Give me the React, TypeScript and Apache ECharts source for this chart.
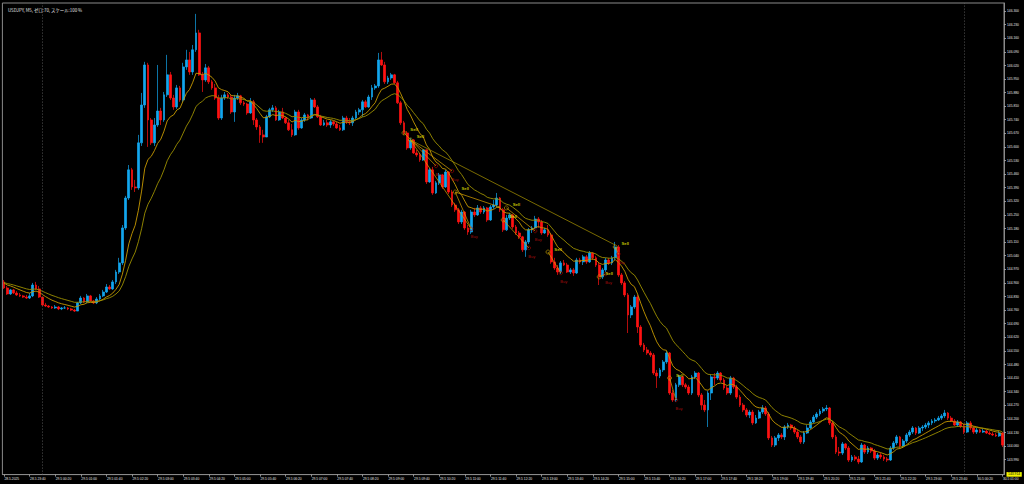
import React, { useEffect, useRef } from "react";
import * as echarts from "echarts";

// USDJPY M5 bars, first bar 28.5.2025 23:00. Each bar opens at the previous close.
const firstOpen = 144.905;
const closes = [
  144.874,144.843,144.864,144.848,144.838,144.833,144.827,144.822,144.833,144.889,
  144.869,144.827,144.786,144.781,144.776,144.771,144.776,144.766,144.771,144.771,
  144.766,144.760,144.755,144.797,144.822,144.802,144.833,144.807,144.797,144.817,
  144.833,144.853,144.879,144.869,144.905,144.956,145.003,145.183,145.337,145.482,
  145.394,145.389,145.621,145.816,146.022,145.739,145.621,145.713,145.785,145.739,
  145.868,145.971,145.852,145.806,145.904,145.842,146.012,146.048,145.986,146.100,
  146.187,145.971,145.945,146.007,145.935,145.904,145.852,145.749,145.852,145.868,
  145.857,145.780,145.852,145.863,145.827,145.821,145.775,145.832,145.739,145.703,
  145.662,145.651,145.755,145.791,145.801,145.739,145.780,145.749,145.724,145.688,
  145.662,145.780,145.698,145.739,145.765,145.749,145.842,145.806,145.755,145.713,
  145.724,145.713,145.729,145.718,145.698,145.688,145.749,145.729,145.724,145.749,
  145.780,145.791,145.832,145.806,145.857,145.904,145.914,146.048,146.022,145.935,
  145.955,145.971,145.930,145.827,145.724,145.672,145.595,145.636,145.569,145.559,
  145.533,145.585,145.420,145.482,145.363,145.415,145.456,145.394,145.471,145.368,
  145.301,145.276,145.214,145.265,145.183,145.162,145.265,145.250,145.286,145.265,
  145.286,145.224,145.291,145.301,145.337,145.276,145.173,145.234,145.250,145.188,
  145.157,145.137,145.070,145.111,145.173,145.183,145.229,145.214,145.157,145.173,
  145.147,145.008,144.977,144.956,145.003,144.992,144.956,144.967,144.951,145.018,
  145.008,145.034,145.008,145.054,145.029,144.992,144.931,144.967,145.018,145.003,
  145.029,145.085,144.941,144.900,144.838,144.735,144.776,144.827,144.673,144.580,
  144.555,144.539,144.529,144.436,144.421,144.452,144.493,144.539,144.333,144.297,
  144.375,144.416,144.375,144.364,144.333,144.416,144.436,144.323,144.271,144.246,
  144.333,144.416,144.410,144.436,144.400,144.359,144.333,144.410,144.364,144.312,
  144.271,144.246,144.220,144.235,144.179,144.204,144.235,144.256,144.225,144.102,
  144.065,144.102,144.117,144.107,144.158,144.168,144.153,144.132,144.107,144.081,
  144.127,144.153,144.184,144.209,144.225,144.240,144.251,144.256,144.179,144.107,
  144.029,144.024,144.071,144.050,143.988,144.004,143.993,143.978,144.065,144.029,
  144.050,144.034,143.998,144.014,144.004,143.993,143.988,144.050,144.076,144.107,
  144.060,144.086,144.117,144.132,144.153,144.127,144.153,144.158,144.168,144.179,
  144.189,144.194,144.204,144.215,144.230,144.204,144.189,144.168,144.184,144.163,
  144.132,144.179,144.153,144.132,144.143,144.132,144.137,144.127,144.122,144.117,
  144.112,144.127,144.065,
];
const highs = [
  144.915,144.884,144.869,144.869,144.858,144.848,144.838,144.838,144.848,144.900,
  144.905,144.884,144.827,144.797,144.786,144.781,144.786,144.781,144.776,144.781,
  144.776,144.771,144.766,144.802,144.833,144.827,144.843,144.838,144.812,144.827,
  144.843,144.864,144.894,144.889,144.915,144.967,145.029,145.198,145.348,145.507,
  145.492,145.430,145.662,145.878,146.038,146.033,145.749,145.749,146.022,145.801,
  145.883,146.074,145.986,145.868,145.919,145.914,146.033,146.100,146.089,146.125,
  146.285,146.203,145.986,146.027,146.017,145.945,145.924,145.868,145.868,145.883,
  145.878,145.868,145.868,145.878,145.868,145.837,145.827,145.852,145.842,145.749,
  145.713,145.688,145.765,145.801,145.816,145.811,145.791,145.801,145.755,145.739,
  145.718,145.791,145.791,145.749,145.775,145.770,145.852,145.852,145.816,145.765,
  145.739,145.739,145.739,145.734,145.729,145.713,145.760,145.760,145.749,145.760,
  145.791,145.801,145.842,145.842,145.868,145.919,145.924,146.084,146.089,146.038,
  145.966,145.981,145.976,145.940,145.837,145.734,145.682,145.646,145.641,145.585,
  145.569,145.585,145.585,145.492,145.497,145.425,145.466,145.461,145.482,145.476,
  145.379,145.312,145.286,145.276,145.270,145.198,145.276,145.286,145.301,145.296,
  145.296,145.291,145.301,145.327,145.363,145.342,145.286,145.250,145.260,145.255,
  145.198,145.167,145.142,145.121,145.183,145.193,145.245,145.239,145.224,145.183,
  145.198,145.157,145.029,144.992,145.013,145.018,145.003,144.977,144.977,145.029,
  145.029,145.044,145.044,145.064,145.059,145.039,145.003,144.977,145.029,145.029,
  145.039,145.111,145.095,144.951,144.910,144.848,144.786,144.838,144.838,144.683,
  144.591,144.570,144.549,144.539,144.452,144.462,144.503,144.549,144.544,144.349,
  144.385,144.426,144.421,144.385,144.375,144.426,144.446,144.441,144.333,144.297,
  144.343,144.426,144.436,144.446,144.441,144.410,144.369,144.421,144.416,144.375,
  144.323,144.282,144.256,144.246,144.246,144.220,144.246,144.271,144.266,144.235,
  144.112,144.112,144.127,144.127,144.168,144.179,144.174,144.163,144.143,144.117,
  144.137,144.168,144.194,144.220,144.235,144.251,144.261,144.271,144.261,144.189,
  144.117,144.055,144.081,144.076,144.060,144.014,144.014,144.009,144.076,144.071,
  144.060,144.055,144.045,144.024,144.024,144.014,144.004,144.060,144.086,144.117,
  144.112,144.096,144.127,144.143,144.163,144.158,144.163,144.168,144.179,144.189,
  144.199,144.204,144.215,144.225,144.246,144.235,144.215,144.199,144.194,144.189,
  144.174,144.189,144.189,144.163,144.153,144.148,144.148,144.143,144.137,144.132,
  144.127,144.137,144.132,
];
const lows = [
  144.869,144.838,144.838,144.843,144.833,144.827,144.822,144.817,144.817,144.827,
  144.864,144.822,144.781,144.776,144.771,144.766,144.766,144.760,144.760,144.766,
  144.760,144.755,144.750,144.755,144.791,144.797,144.797,144.802,144.791,144.791,
  144.812,144.827,144.848,144.864,144.864,144.894,144.946,144.992,145.173,145.327,
  145.379,145.368,145.379,145.605,145.801,145.600,145.610,145.605,145.703,145.713,
  145.729,145.857,145.842,145.791,145.796,145.832,145.832,145.997,145.971,145.971,
  146.089,145.966,145.883,145.935,145.924,145.894,145.842,145.739,145.739,145.842,
  145.847,145.770,145.729,145.842,145.816,145.811,145.765,145.770,145.713,145.688,
  145.621,145.621,145.651,145.749,145.780,145.734,145.734,145.744,145.718,145.682,
  145.651,145.657,145.688,145.693,145.729,145.739,145.744,145.801,145.749,145.708,
  145.708,145.703,145.698,145.708,145.693,145.682,145.682,145.718,145.713,145.708,
  145.744,145.765,145.755,145.801,145.801,145.842,145.894,145.904,146.017,145.924,
  145.924,145.945,145.924,145.821,145.713,145.662,145.585,145.585,145.564,145.549,
  145.523,145.528,145.409,145.415,145.353,145.358,145.404,145.384,145.389,145.358,
  145.291,145.265,145.203,145.203,145.173,145.147,145.152,145.239,145.245,145.255,
  145.255,145.214,145.219,145.281,145.291,145.265,145.162,145.167,145.224,145.178,
  145.147,145.126,145.059,145.034,145.100,145.157,145.178,145.183,145.147,145.152,
  145.137,144.998,144.967,144.941,144.946,144.987,144.951,144.946,144.936,144.946,
  144.998,144.992,144.998,145.003,145.018,144.982,144.889,144.920,144.956,144.992,
  144.992,145.018,144.931,144.889,144.827,144.642,144.719,144.766,144.642,144.570,
  144.544,144.529,144.518,144.426,144.359,144.410,144.441,144.483,144.323,144.287,
  144.287,144.364,144.364,144.354,144.323,144.323,144.405,144.312,144.246,144.235,
  144.158,144.297,144.375,144.400,144.390,144.349,144.323,144.323,144.354,144.302,
  144.261,144.235,144.209,144.204,144.168,144.174,144.199,144.225,144.215,144.091,
  144.055,144.055,144.086,144.096,144.091,144.148,144.143,144.122,144.096,144.071,
  144.071,144.122,144.148,144.179,144.199,144.215,144.230,144.240,144.168,144.096,
  144.019,144.009,144.014,144.040,143.978,143.978,143.983,143.967,143.973,144.019,
  144.019,144.024,143.988,143.988,143.993,143.983,143.978,143.983,144.040,144.065,
  144.050,144.050,144.076,144.107,144.122,144.117,144.122,144.137,144.148,144.153,
  144.168,144.179,144.189,144.194,144.204,144.194,144.184,144.163,144.158,144.153,
  144.122,144.127,144.143,144.122,144.122,144.127,144.127,144.122,144.117,144.112,
  144.107,144.107,144.055,
];

// Price-axis tick labels (right scale)
const priceTicks = [
  143.99, 144.06, 144.13, 144.2, 144.27, 144.34, 144.41, 144.48, 144.55, 144.62,
  144.69, 144.76, 144.83, 144.9, 144.97, 145.04, 145.11, 145.18, 145.25, 145.32,
  145.39, 145.46, 145.53, 145.6, 145.67, 145.74, 145.81, 145.88, 145.95, 146.02,
  146.09, 146.16, 146.23, 146.3,
];
const priceMin = 143.913;
const priceMax = 146.341;
const currentPrice = [143.914];

// Trade markers (bar index, price)
const sellIdx = [125, 127, 141, 156, 157, 170, 186, 191, 208];
const sellPx = [145.672, 145.636, 145.368, 145.224, 145.286, 145.059, 144.931, 145.085, 144.41];
const buyIdx = [135, 140, 146, 164, 166, 174, 188, 192, 210];
const buyPx = [145.502, 145.476, 145.178, 145.08, 145.167, 144.951, 144.946, 145.049, 144.297];
// Trade lines: open bar/price -> close bar/price
const tradeOpenIdx = [125, 127, 127, 127, 141, 141, 156, 157, 170, 186, 191, 208];
const tradeOpenPx = [145.672, 145.636, 145.636, 145.636, 145.368, 145.368, 145.224, 145.286, 145.059, 144.931, 145.085, 144.41];
const tradeCloseIdx = [135, 140, 146, 191, 146, 155, 164, 166, 174, 188, 192, 210];
const tradeClosePx = [145.502, 145.476, 145.178, 145.095, 145.178, 145.29, 145.08, 145.167, 144.951, 144.946, 145.049, 144.297];

const separatorIdx = [12, 300];
const labelStep = 8;

const BULL = "#12A6EE";
const BEAR = "#FF1212";
const MA_FAST = "#C79A00";
const MA_SLOW = "#9C8E00";
const TEXT = "#E4E4E4";
const FRAME = "#8A8A8A";

const pad = (n: number) => (n < 10 ? "0" + n : "" + n);
const categories = closes.map((_, i) => {
  const mins = 23 * 60 + i * 5;
  const day = 28 + Math.floor(mins / 1440);
  const t = mins % 1440;
  if (i === 0) return "28.5.2025";
  return `${day}.5 ${pad(Math.floor(t / 60))}:${pad(t % 60)}`;
});

const ohlc = closes.map((c, i) => {
  const o = i === 0 ? firstOpen : closes[i - 1];
  const h = Math.max(highs[i], o, c);
  const l = Math.min(lows[i], o, c);
  return [o, c, l, h];
});

function ema(values: number[], period: number, seed: number) {
  const a = 2 / (period + 1);
  let e = seed;
  return values.map((v) => {
    e = e + a * (v - e);
    return +e.toFixed(4);
  });
}
const emaFast = ema(closes, 10, firstOpen);
const emaSlow = ema(closes, 20, firstOpen);

export default function App() {
  const ref = useRef<HTMLDivElement>(null);
  useEffect(() => {
    const chart = echarts.init(ref.current!, null, { renderer: "svg" });
    const tradeSeries = tradeOpenIdx.map((oi, k) => ({
      type: "line",
      data: [
        [oi, tradeOpenPx[k]],
        [tradeCloseIdx[k], tradeClosePx[k]],
      ],
      symbol: "none",
      silent: true,
      z: 4,
      lineStyle: { color: k === 3 ? "#A89400" : "#D8A200", width: 0.8, opacity: 0.9 },
    }));
    const option: any = {
      animation: false,
      backgroundColor: "#000000",
      title: {
        text: "USDJPY, M5, ゼロ:70, スケール:100 %",
        left: 3,
        top: 3,
        textStyle: {
          color: TEXT,
          fontSize: 4.4,
          fontWeight: "normal",
          fontFamily: "Noto Sans CJK JP, Liberation Sans, sans-serif",
        },
      },
      grid: {
        left: 2.4,
        right: 20,
        top: 3,
        bottom: 9.4,
        show: true,
        borderColor: FRAME,
        borderWidth: 1,
        backgroundColor: "transparent",
        outerBoundsMode: "none",
        containLabel: false,
      },
      xAxis: {
        type: "category",
        data: categories,
        boundaryGap: true,
        axisLine: { show: true, lineStyle: { color: FRAME, width: 1 } },
        axisTick: {
          show: true,
          alignWithLabel: true,
          interval: (i: number) => i % labelStep === 0,
          length: 2,
          lineStyle: { color: "#B0B0B0", width: 0.8 },
        },
        axisLabel: {
          interval: (i: number) => i % labelStep === 0,
          align: "left",
          color: TEXT,
          fontSize: 3.3,
          margin: 2.5,
          fontFamily: "Liberation Sans, sans-serif",
          padding: [0, 0, 0, 0.5],
        },
        splitLine: { show: false },
      },
      yAxis: [
        {
          type: "value",
          position: "right",
          min: priceMin,
          max: priceMax,
          scale: true,
          axisLine: { show: true, lineStyle: { color: FRAME, width: 1 } },
          axisTick: {
            show: true,
            customValues: priceTicks,
            length: 2,
            lineStyle: { color: "#B0B0B0", width: 0.8 },
          },
          axisLabel: {
            customValues: priceTicks,
            formatter: (v: number) => v.toFixed(3),
            color: TEXT,
            fontSize: 3.3,
            margin: 3,
            fontFamily: "Liberation Sans, sans-serif",
          },
          splitLine: { show: false },
        },
        {
          type: "value",
          position: "right",
          min: priceMin,
          max: priceMax,
          scale: true,
          axisLine: { show: false },
          axisTick: { show: false },
          splitLine: { show: false },
          axisLabel: {
            customValues: currentPrice,
            showMinLabel: true,
            showMaxLabel: false,
            formatter: (v: number) => v.toFixed(3),
            color: "#000000",
            backgroundColor: "#F4F400",
            padding: [1, 1.5, 0.6, 1.5],
            fontSize: 3.4,
            margin: 2.5,
            fontFamily: "Liberation Sans, sans-serif",
          },
        },
      ],
      series: [
        {
          type: "candlestick",
          data: ohlc,
          barWidth: 2.2,
          z: 2,
          itemStyle: {
            color: BULL,
            color0: BEAR,
            borderColor: BULL,
            borderColor0: BEAR,
            borderWidth: 0.7,
          },
          markLine: {
            silent: true,
            symbol: ["none", "none"],
            label: { show: false },
            lineStyle: { color: "#6A6A6A", type: [1, 2], width: 0.8 },
            data: separatorIdx.map((i) => ({ xAxis: categories[i] })),
          },
        },
        {
          type: "line",
          data: emaFast,
          symbol: "none",
          z: 3,
          lineStyle: { color: MA_FAST, width: 0.9 },
        },
        {
          type: "line",
          data: emaSlow,
          symbol: "none",
          z: 3,
          lineStyle: { color: MA_SLOW, width: 0.9 },
        },
        ...tradeSeries,
        {
          type: "scatter",
          data: sellIdx.map((i, k) => [i, sellPx[k]]),
          symbol: "circle",
          symbolSize: 4,
          z: 6,
          itemStyle: { color: "rgba(0,0,0,0)", borderColor: "#D8B000", borderWidth: 0.7 },
          label: {
            show: true,
            formatter: "Sell",
            position: "right",
            offset: [-1, -3],
            color: "#EAEA00",
            fontSize: 4.2,
            fontWeight: "bold",
            fontFamily: "Liberation Sans, sans-serif",
          },
        },
        {
          type: "scatter",
          data: buyIdx.map((i, k) => [i, buyPx[k]]),
          symbol: "circle",
          symbolSize: 3.5,
          z: 6,
          itemStyle: { color: "rgba(0,0,0,0)", borderColor: "#B00000", borderWidth: 0.7 },
          label: {
            show: true,
            formatter: "Buy",
            position: "bottom",
            offset: [3, -1],
            color: "#D01010",
            fontSize: 4,
            fontFamily: "Liberation Sans, sans-serif",
          },
        },
      ],
    };
    chart.setOption(option);
    return () => chart.dispose();
  }, []);
  return (
    <div
      ref={ref}
      style={{ position: "fixed", left: 0, top: 0, width: 1024, height: 484, background: "#000" }}
    />
  );
}
